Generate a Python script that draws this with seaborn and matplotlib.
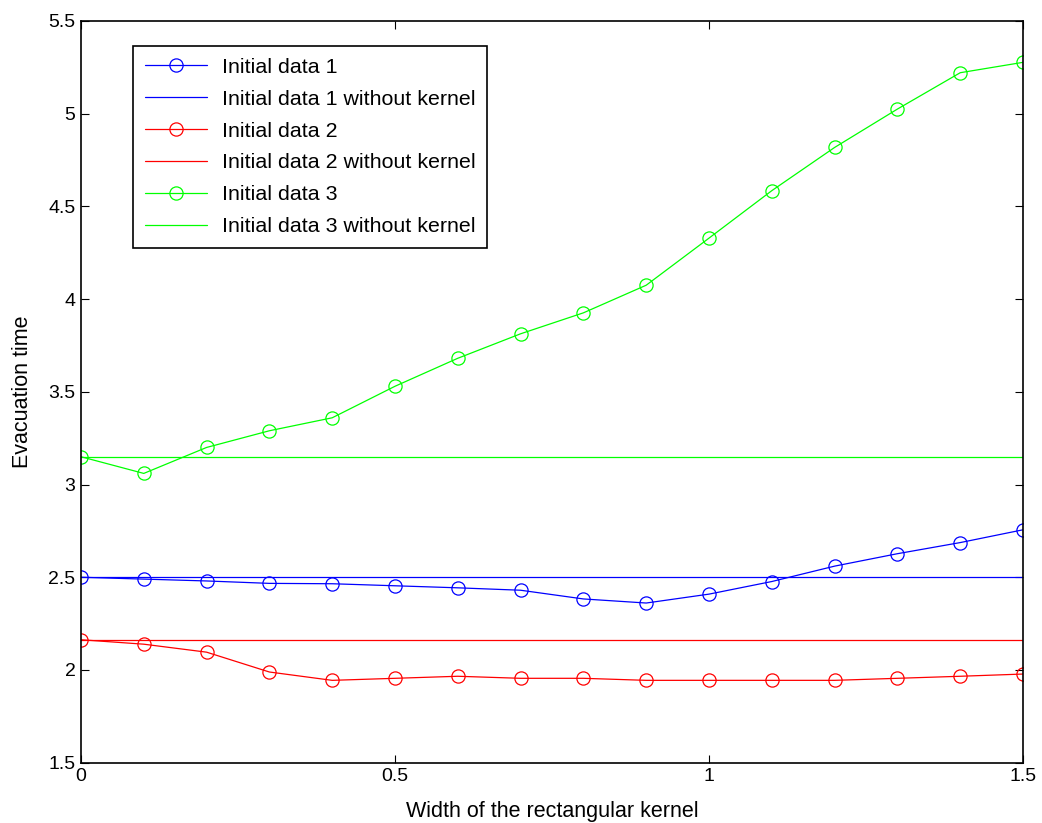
import numpy as np
import pandas as pd
import matplotlib
matplotlib.use("Agg")
import matplotlib.pyplot as plt
import seaborn as sns

# ---- data ----
widths = [0.0, 0.1, 0.2, 0.3, 0.4, 0.5, 0.6, 0.7, 0.8, 0.9, 1.0, 1.1, 1.2, 1.3, 1.4, 1.5]
data1 = [2.50, 2.49, 2.48, 2.467, 2.465, 2.454, 2.443, 2.43, 2.383, 2.361, 2.409, 2.477, 2.56, 2.627, 2.687, 2.756]
data2 = [2.163, 2.139, 2.096, 1.989, 1.944, 1.955, 1.966, 1.955, 1.955, 1.944, 1.944, 1.944, 1.944, 1.955, 1.966, 1.978]
data3 = [3.15, 3.06, 3.20, 3.29, 3.36, 3.53, 3.681, 3.813, 3.926, 4.075, 4.329, 4.585, 4.818, 5.025, 5.221, 5.277]
base1 = 2.50
base2 = 2.163
base3 = 3.15
labels = ["Initial data 1", "Initial data 1 without kernel",
          "Initial data 2", "Initial data 2 without kernel",
          "Initial data 3", "Initial data 3 without kernel"]
colors = ["#0000ff", "#ff0000", "#00ff00"]
xticks = [0, 0.5, 1, 1.5]
xticklabels = ["0", "0.5", "1", "1.5"]
yticks = [1.5, 2, 2.5, 3, 3.5, 4, 4.5, 5, 5.5]
yticklabels = ["1.5", "2", "2.5", "3", "3.5", "4", "4.5", "5", "5.5"]

sns.set_style("white")
plt.rcParams['font.family'] = ['Liberation Sans', 'DejaVu Sans']
plt.rcParams['text.color'] = 'black'
plt.rcParams['axes.labelcolor'] = 'black'

fig = plt.figure(figsize=(10.42, 8.23), dpi=100)
ax = fig.add_axes([0.0777, 0.0733, 0.9041, 0.9012])

series = [(data1, base1), (data2, base2), (data3, base3)]
for i, (vals, base) in enumerate(series):
    c = colors[i]
    sns.lineplot(x=widths, y=vals, ax=ax, color=c, lw=0.9, marker='o',
                 markersize=9.5, markerfacecolor='none', markeredgecolor=c,
                 markeredgewidth=0.9, label=labels[2 * i])
    sns.lineplot(x=widths, y=[base] * len(widths), ax=ax, color=c, lw=0.9,
                 label=labels[2 * i + 1])

ax.set_xlim(0, 1.5)
ax.set_ylim(1.5, 5.5)
ax.set_xticks(xticks)
ax.set_xticklabels(xticklabels)
ax.set_yticks(yticks)
ax.set_yticklabels(yticklabels)
ax.tick_params(direction='in', length=6, width=0.8, top=True, right=True,
               bottom=True, left=True, labelsize=14, colors='black', pad=4)
for s in ax.spines.values():
    s.set_visible(True)
    s.set_color('black')
    s.set_linewidth(1.2)

ax.set_xlabel("Width of the rectangular kernel", fontsize=15.5, labelpad=11, color='black')
ax.set_ylabel("Evacuation time", fontsize=15.5, color='black')
ax.yaxis.set_label_coords(-0.051, 0.5)

leg = ax.legend(loc='upper left', bbox_to_anchor=(0.055, 0.966), borderaxespad=0,
                fontsize=15.4, frameon=True, fancybox=False, handlelength=2.9,
                labelspacing=0.6, borderpad=0.55, handletextpad=0.7)
leg.get_frame().set_edgecolor('black')
leg.get_frame().set_linewidth(1.2)
leg.get_frame().set_alpha(1)
for t in leg.get_texts():
    t.set_color('black')

fig.savefig("out.png", dpi=100)
